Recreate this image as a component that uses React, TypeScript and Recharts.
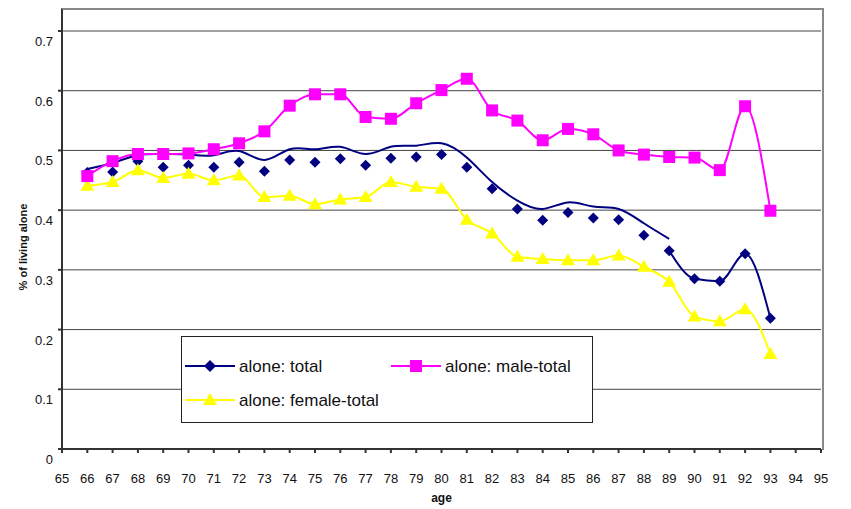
import { CartesianGrid, Line, LineChart, XAxis, YAxis } from "recharts";

const ages = [
  66, 67, 68, 69, 70, 71, 72, 73, 74, 75, 76, 77, 78, 79, 80, 81, 82, 83, 84,
  85, 86, 87, 88, 89, 90, 91, 92, 93,
];

// share living alone, all persons (markers)
const total = [
  0.463, 0.464, 0.482, 0.472, 0.475, 0.472, 0.48, 0.465, 0.484, 0.48, 0.486,
  0.475, 0.487, 0.489, 0.493, 0.472, 0.436, 0.402, 0.383, 0.396, 0.387, 0.384,
  0.358, 0.332, 0.285, 0.281, 0.327, 0.219,
];

// smoothed total curve, 66-89
const totalSmooth = [
  0.469, 0.479, 0.492, 0.494, 0.493, 0.492, 0.499, 0.484, 0.502, 0.502, 0.506,
  0.494, 0.506, 0.508, 0.512, 0.488, 0.447, 0.416, 0.402, 0.413, 0.406, 0.402,
  0.378, 0.352,
];

const maleTotal = [
  0.457, 0.482, 0.494, 0.494, 0.495, 0.502, 0.512, 0.532, 0.575, 0.594, 0.594,
  0.556, 0.553, 0.579, 0.601, 0.62, 0.567, 0.55, 0.517, 0.536, 0.527, 0.5,
  0.493, 0.489, 0.488, 0.467, 0.574, 0.399,
];

const femaleTotal = [
  0.441, 0.447, 0.467, 0.454, 0.461, 0.45, 0.458, 0.422, 0.424, 0.41, 0.418,
  0.422, 0.447, 0.439, 0.436, 0.384, 0.361, 0.322, 0.318, 0.316, 0.316, 0.324,
  0.305, 0.28, 0.222, 0.214, 0.234, 0.159,
];

const xTicks = [
  65, 66, 67, 68, 69, 70, 71, 72, 73, 74, 75, 76, 77, 78, 79, 80, 81, 82, 83,
  84, 85, 86, 87, 88, 89, 90, 91, 92, 93, 94, 95,
];
const yTicks = [0, 0.1, 0.2, 0.3, 0.4, 0.5, 0.6, 0.7];

const NAVY = "#000080";
const MAGENTA = "#FF00FF";
const YELLOW = "#FFFF00";
const FONT = "'Liberation Sans', Arial, sans-serif";

const data = ages.map((age, i) => ({
  age,
  total: total[i],
  totalSmooth: i < totalSmooth.length ? totalSmooth[i] : null,
  totalTail: age >= 89 ? total[i] : null,
  maleTotal: maleTotal[i],
  femaleTotal: femaleTotal[i],
}));

const Diamond = (props: any) => {
  const { cx, cy, index } = props;
  if (cx == null || cy == null || props.value == null) return <g key={`d${index}`} />;
  const r = 5.5;
  return (
    <path
      key={`d${index}`}
      d={`M${cx},${cy - r}L${cx + r},${cy}L${cx},${cy + r}L${cx - r},${cy}Z`}
      fill={NAVY}
    />
  );
};

const Square = (props: any) => {
  const { cx, cy, index } = props;
  if (cx == null || cy == null) return <g key={`s${index}`} />;
  const h = 6;
  return <rect key={`s${index}`} x={cx - h} y={cy - h} width={h * 2} height={h * 2} fill={MAGENTA} />;
};

const Triangle = (props: any) => {
  const { cx, cy, index } = props;
  if (cx == null || cy == null) return <g key={`t${index}`} />;
  return (
    <path
      key={`t${index}`}
      d={`M${cx},${cy - 7}L${cx + 7},${cy + 5}L${cx - 7},${cy + 5}Z`}
      fill={YELLOW}
    />
  );
};

const YTick = ({ x, y, payload }: any) => (
  <text x={53} y={y + 10.5} textAnchor="end" dominantBaseline="central" fontSize={13} fill="#111" fontFamily={FONT}>
    {payload.value}
  </text>
);

const XTick = ({ x, payload }: any) => (
  <text x={x} y={478} textAnchor="middle" dominantBaseline="central" fontSize={13} fill="#111" fontFamily={FONT}>
    {payload.value}
  </text>
);

function LegendBox() {
  const item = (x: number, y: number, color: string, marker: string, label: string) => (
    <g>
      <line x1={x} y1={y} x2={x + 50} y2={y} stroke={color} strokeWidth={2} />
      {marker === "diamond" && (
        <path d={`M${x + 25},${y - 6}L${x + 31},${y}L${x + 25},${y + 6}L${x + 19},${y}Z`} fill={color} />
      )}
      {marker === "square" && <rect x={x + 19} y={y - 6} width={12} height={12} fill={color} />}
      {marker === "triangle" && (
        <path d={`M${x + 25},${y - 7}L${x + 32},${y + 5}L${x + 18},${y + 5}Z`} fill={color} />
      )}
      <text x={x + 54} y={y} dominantBaseline="central" fontSize={17} fill="#111" fontFamily={FONT}>
        {label}
      </text>
    </g>
  );
  return (
    <svg
      width={413}
      height={88}
      style={{ position: "absolute", left: 181, top: 336 }}
    >
      <rect x={0.5} y={0.5} width={411} height={86} fill="#fff" stroke="#222" strokeWidth={1} />
      {item(4, 30, NAVY, "diamond", "alone: total")}
      {item(210, 30, MAGENTA, "square", "alone: male-total")}
      {item(4, 64, YELLOW, "triangle", "alone: female-total")}
    </svg>
  );
}

export default function App() {
  return (
    <div style={{ position: "absolute", left: 0, top: 0, width: 851, height: 509, background: "#fff" }}>
      <LineChart
        width={851}
        height={509}
        data={data}
        margin={{ top: 31, right: 30, left: 0, bottom: 30 }}
      >
        <CartesianGrid vertical={false} stroke="#444" strokeWidth={1} />
        <XAxis
          dataKey="age"
          type="number"
          domain={[65, 95]}
          ticks={xTicks}
          interval={0}
          height={30}
          stroke="#333"
          strokeWidth={2}
          tickSize={4}
          tick={<XTick />}
          label={{
            content: () => (
              <text x={441.5} y={498} textAnchor="middle" dominantBaseline="central" fontSize={12} fontWeight="bold" fill="#111" fontFamily={FONT}>
                age
              </text>
            ),
          }}
        />
        <YAxis
          type="number"
          domain={[0, 0.7]}
          ticks={yTicks}
          width={62}
          stroke="#333"
          strokeWidth={2}
          tickSize={4}
          tick={<YTick />}
          label={{
            content: () => (
              <text
                x={23}
                y={247}
                transform="rotate(-90 23 247)"
                textAnchor="middle"
                dominantBaseline="central"
                fontSize={11}
                fontWeight="bold"
                fill="#111"
                fontFamily={FONT}
              >
                % of living alone
              </text>
            ),
          }}
        />
        <Line
          dataKey="totalSmooth"
          type="natural"
          stroke={NAVY}
          strokeWidth={2}
          dot={false}
          activeDot={false}
          isAnimationActive={false}
        />
        <Line
          dataKey="totalTail"
          type="monotone"
          stroke={NAVY}
          strokeWidth={2}
          dot={false}
          activeDot={false}
          isAnimationActive={false}
        />
        <Line
          dataKey="total"
          stroke="none"
          dot={Diamond}
          activeDot={false}
          isAnimationActive={false}
        />
        <Line
          dataKey="femaleTotal"
          type="monotone"
          stroke={YELLOW}
          strokeWidth={2}
          dot={Triangle}
          activeDot={false}
          isAnimationActive={false}
        />
        <Line
          dataKey="maleTotal"
          type="monotone"
          stroke={MAGENTA}
          strokeWidth={2}
          dot={Square}
          activeDot={false}
          isAnimationActive={false}
        />
      </LineChart>
      {/* plot frame above the 0.7 line and on the right */}
      <div
        style={{
          position: "absolute",
          left: 61,
          top: 8,
          width: 759,
          height: 440,
          borderTop: "2px solid #888",
          borderRight: "2px solid #888",
          borderLeft: "2px solid #333",
          pointerEvents: "none",
        }}
      />
      <LegendBox />
    </div>
  );
}
